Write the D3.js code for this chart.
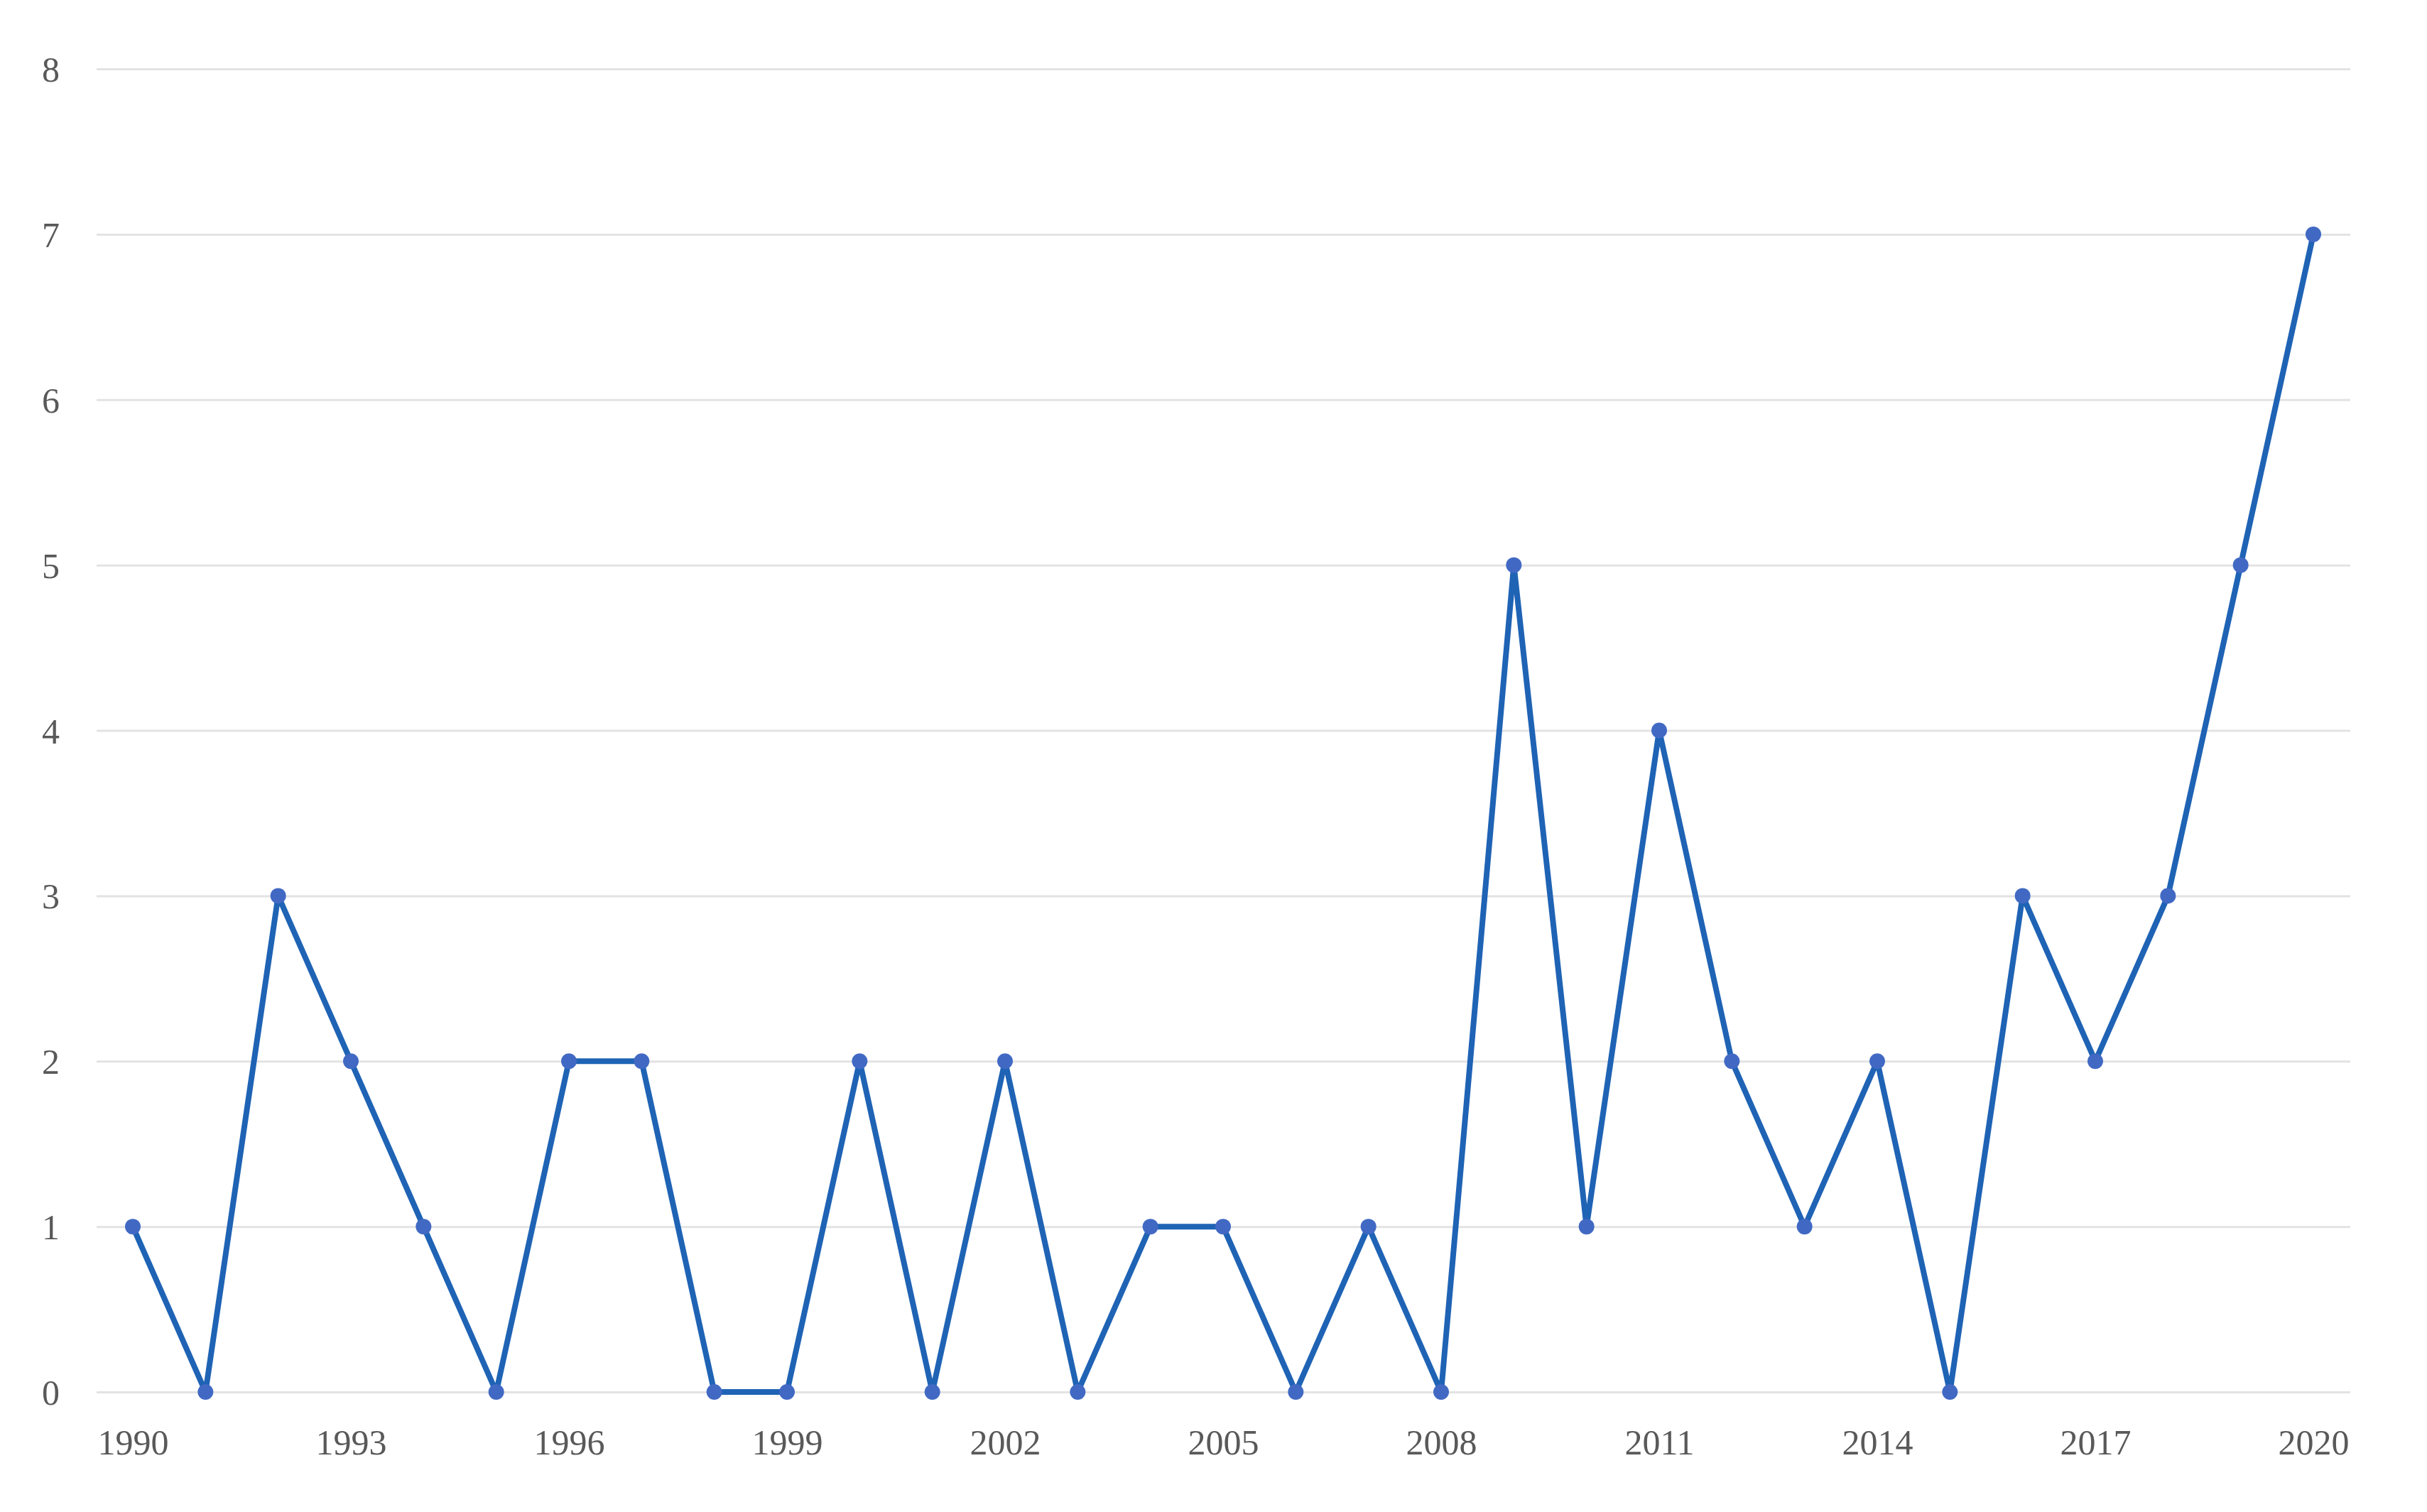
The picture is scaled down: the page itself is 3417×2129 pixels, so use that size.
<!DOCTYPE html>
<meta charset="utf-8">
<style>
body { margin: 0; background: #fff; }
.grid line { stroke: #e3e3e3; stroke-width: 3px; }
.grid .domain { display: none; }
.axis text { font-family: "Liberation Serif", "DejaVu Serif", serif; font-size: 50px; fill: #595959; }
.axis .domain, .axis line { display: none; }
.line { fill: none; stroke: #1f63b5; stroke-width: 8px; stroke-linejoin: round; }
.dot { fill: #4169c4; }
</style>
<svg width="3417" height="2129"></svg>
<script src="https://cdn.jsdelivr.net/npm/d3@7"></script>
<script>
var years = d3.range(1990, 2021);
var counts = [1, 0, 3, 2, 1, 0, 2, 2, 0, 0, 2, 0, 2, 0, 1, 1, 0, 1, 0, 5, 1, 4, 2, 1, 2, 0, 3, 2, 3, 5, 7];
var yTicks = [0, 1, 2, 3, 4, 5, 6, 7, 8];
var xTicks = [1990, 1993, 1996, 1999, 2002, 2005, 2008, 2011, 2014, 2017, 2020];

var svg = d3.select("svg"),
    gridLeft = 136, gridRight = 3309,
    plotTop = 97, plotBottom = 1960;

var x = d3.scaleLinear()
    .domain([1990, 2020])
    .range([187, 3257]);
var y = d3.scaleLinear()
    .domain([0, 8])
    .range([plotBottom, plotTop]);

// horizontal gridlines
svg.append("g")
    .attr("class", "grid")
    .attr("transform", "translate(" + gridLeft + ",0)")
    .call(d3.axisLeft(y).tickValues(yTicks).tickSize(-(gridRight - gridLeft)).tickFormat(""));

svg.append("g")
    .attr("class", "axis axis--y")
    .attr("transform", "translate(84,0)")
    .call(d3.axisLeft(y).tickValues(yTicks).tickSize(0).tickPadding(0))
  .selectAll("text")
    .attr("dy", "0.35em");

svg.append("g")
    .attr("class", "axis axis--x")
    .attr("transform", "translate(0," + plotBottom + ")")
    .call(d3.axisBottom(x).tickValues(xTicks).tickSize(0).tickPadding(0).tickFormat(d3.format("d")))
  .selectAll("text")
    .attr("dy", "0")
    .attr("y", 88);

var data = years.map(function(d, i) { return {year: d, value: counts[i]}; });

var line = d3.line()
    .x(function(d) { return x(d.year); })
    .y(function(d) { return y(d.value); });

svg.append("path")
    .datum(data)
    .attr("class", "line")
    .attr("d", line);

svg.selectAll(".dot")
    .data(data)
  .enter().append("circle")
    .attr("class", "dot")
    .attr("cx", function(d) { return x(d.year); })
    .attr("cy", function(d) { return y(d.value); })
    .attr("r", 11);
</script>
